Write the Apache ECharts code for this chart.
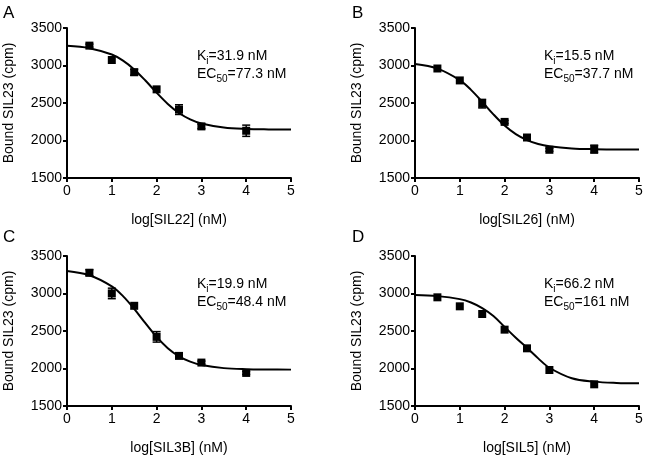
<!DOCTYPE html>
<html>
<head>
<meta charset="utf-8">
<script src="https://cdn.jsdelivr.net/npm/echarts@6/dist/echarts.min.js"></script>
<style>html,body{margin:0;padding:0;background:#fff}#c{width:647px;height:460px}</style>
</head>
<body>
<div id="c"></div>
<script>
// ---- data ----
const pointX = [0.5, 1, 1.5, 2, 2.5, 3, 4];
const curveX = [0, 0.5, 1, 1.25, 1.5, 1.75, 2, 2.25, 2.5, 2.75, 3, 3.5, 4, 4.5, 5];

const panelLetters = ['A', 'B', 'C', 'D'];
const xAxisNames = ['log[SIL22] (nM)', 'log[SIL26] (nM)', 'log[SIL3B] (nM)', 'log[SIL5] (nM)'];
const yAxisName = 'Bound SIL23 (cpm)';
const kiValues = ['31.9', '15.5', '19.9', '66.2'];
const ec50Values = ['77.3', '37.7', '48.4', '161'];

const aY = [3265, 3073, 2910, 2682, 2412, 2188, 2130];
const aErr = [20, 0, 40, 0, 65, 30, 75];
const aCurve = [3262, 3231, 3146, 3065, 2948, 2800, 2638, 2488, 2367, 2282, 2227, 2173, 2154, 2148, 2146];

const bY = [2960, 2801, 2491, 2248, 2040, 1876, 1885];
const bErr = [0, 0, 57, 20, 0, 20, 53];
const bCurve = [3020, 2959, 2805, 2675, 2516, 2349, 2200, 2085, 2005, 1953, 1923, 1894, 1884, 1881, 1880];

const cY = [3277, 3001, 2836, 2422, 2168, 2079, 1941];
const cErr = [40, 70, 0, 70, 0, 20, 20];
const cCurve = [3300, 3243, 3095, 2965, 2795, 2604, 2421, 2271, 2162, 2091, 2047, 2005, 1991, 1987, 1985];

const dY = [2949, 2829, 2727, 2518, 2269, 1980, 1789];
const dErr = [0, 0, 0, 0, 0, 0, 0];
const dCurve = [2980, 2965, 2925, 2880, 2805, 2700, 2555, 2410, 2275, 2135, 2010, 1870, 1825, 1808, 1802];

const yTicks = { min: 1500, max: 3500, interval: 500 };
const xTicks = { min: 0, max: 5, interval: 1 };

// ---- build ----
const FONT = '"Liberation Sans", Arial, sans-serif';
const panelsY = [aY, bY, cY, dY];
const panelsErr = [aErr, bErr, cErr, dErr];
const panelsCurve = [aCurve, bCurve, cCurve, dCurve];

const grids = [
  { left: 67, top: 28, width: 224, height: 150 },
  { left: 415, top: 28, width: 224, height: 150 },
  { left: 67, top: 256, width: 224, height: 150 },
  { left: 415, top: 256, width: 224, height: 150 }
];

const axisLine = { show: true, onZero: false, lineStyle: { color: '#000', width: 2 } };
const axisTick = { show: true, length: 4, lineStyle: { color: '#000', width: 2 } };
const plain = v => String(v);

const xAxes = grids.map((g, i) => ({
  type: 'value', gridIndex: i, min: xTicks.min, max: xTicks.max, interval: xTicks.interval,
  axisLine, axisTick, splitLine: { show: false },
  axisLabel: { color: '#000', fontSize: 14, fontFamily: FONT, margin: 6, formatter: plain },
  name: xAxisNames[i], nameLocation: 'middle', nameGap: 35,
  nameTextStyle: { color: '#000', fontSize: 14, fontFamily: FONT }
}));
const yAxes = grids.map((g, i) => ({
  type: 'value', gridIndex: i, min: yTicks.min, max: yTicks.max, interval: yTicks.interval,
  axisLine, axisTick, splitLine: { show: false },
  axisLabel: { color: '#000', fontSize: 14, fontFamily: FONT, margin: 5, formatter: plain },
  name: yAxisName, nameLocation: 'middle', nameGap: 51,
  nameTextStyle: { color: '#000', fontSize: 14, fontFamily: FONT }
}));

const series = [];
for (let i = 0; i < 4; i++) {
  series.push({
    type: 'line', xAxisIndex: i, yAxisIndex: i, smooth: 0.35, symbol: 'none',
    lineStyle: { color: '#000', width: 2 },
    data: curveX.map((x, k) => [x, panelsCurve[i][k]]), silent: true, z: 2
  });
  series.push({
    type: 'custom', xAxisIndex: i, yAxisIndex: i, z: 3,
    data: pointX.map((x, k) => [x, panelsY[i][k], panelsErr[i][k]]),
    renderItem: function (params, api) {
      const x = api.value(0), y = api.value(1), e = api.value(2);
      if (!e) return null;
      const top = api.coord([x, y + e]);
      const bot = api.coord([x, y - e]);
      const st = { stroke: '#000', lineWidth: 1.5 };
      return {
        type: 'group', children: [
          { type: 'line', shape: { x1: top[0], y1: top[1], x2: bot[0], y2: bot[1] }, style: st },
          { type: 'line', shape: { x1: top[0] - 4, y1: top[1], x2: top[0] + 4, y2: top[1] }, style: st },
          { type: 'line', shape: { x1: bot[0] - 4, y1: bot[1], x2: bot[0] + 4, y2: bot[1] }, style: st }
        ]
      };
    }
  });
  series.push({
    type: 'scatter', xAxisIndex: i, yAxisIndex: i, symbol: 'rect', symbolSize: 8, z: 4,
    itemStyle: { color: '#000', opacity: 1 },
    data: pointX.map((x, k) => [x, panelsY[i][k]])
  });
}

const graphic = [];
const letterPos = [[3, 14], [352, 14], [3, 238], [352, 238]];
const annoPos = [[197, 58], [544, 58], [197, 286], [544, 286]];
const rich = {
  m: { fontSize: 14, fontFamily: FONT, fill: '#000', verticalAlign: 'bottom', padding: [0, 0, 3, 0] },
  s: { fontSize: 10, fontFamily: FONT, fill: '#000', verticalAlign: 'bottom', padding: [0, 0, 0, 0] }
};
for (let i = 0; i < 4; i++) {
  graphic.push({
    type: 'text', left: letterPos[i][0], top: letterPos[i][1] - 9,
    style: { text: panelLetters[i], fontSize: 17, fontFamily: FONT, fill: '#000' }
  });
  graphic.push({
    type: 'text', x: annoPos[i][0], y: annoPos[i][1],
    style: { text: '{m|K}{s|i}{m|=' + kiValues[i] + ' nM}', rich, verticalAlign: 'middle' }
  });
  graphic.push({
    type: 'text', x: annoPos[i][0], y: annoPos[i][1] + 18,
    style: { text: '{m|EC}{s|50}{m|=' + ec50Values[i] + ' nM}', rich, verticalAlign: 'middle' }
  });
}

const chart = echarts.init(document.getElementById('c'), null, { renderer: 'canvas' });
chart.setOption({
  animation: false,
  backgroundColor: '#fff',
  grid: grids,
  xAxis: xAxes,
  yAxis: yAxes,
  series,
  graphic
});
</script>
</body>
</html>
